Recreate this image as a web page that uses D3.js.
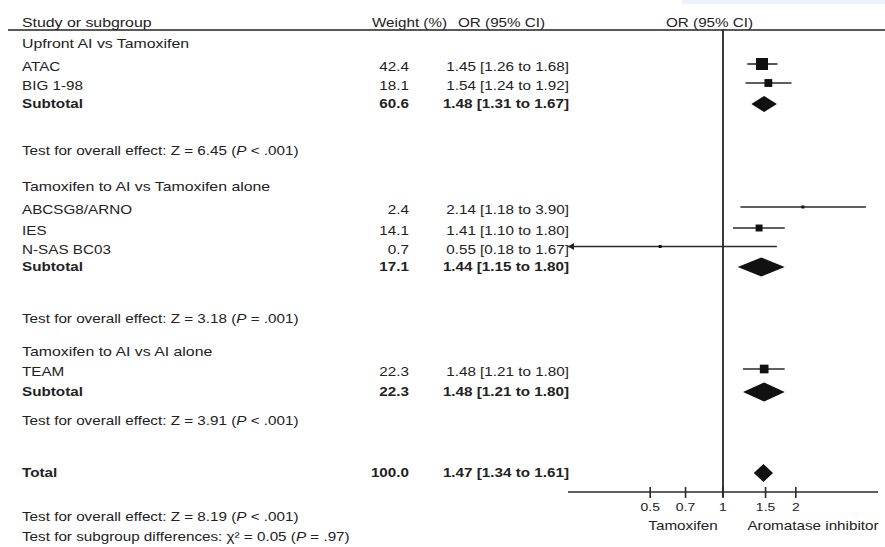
<!DOCTYPE html>
<html><head><meta charset="utf-8">
<script src="https://cdn.jsdelivr.net/npm/d3@7"></script>
<style>
body{margin:0;background:#fff}
svg{display:block}
text{font-family:"Liberation Sans",Arial,Helvetica,sans-serif;fill:#222}
</style>
</head><body>
<svg id="c" width="885" height="547"></svg>
<script>
// ---------------- DATA ----------------
const studies      = ["ATAC", "BIG 1-98", "ABCSG8/ARNO", "IES", "N-SAS BC03", "TEAM"];
const studyGroup   = [0, 0, 1, 1, 1, 2];
const studyWeight  = [42.4, 18.1, 2.4, 14.1, 0.7, 22.3];
const studyOR      = [1.45, 1.54, 2.14, 1.41, 0.55, 1.48];
const studyLo      = [1.26, 1.24, 1.18, 1.10, 0.18, 1.21];
const studyHi      = [1.68, 1.92, 3.90, 1.80, 1.67, 1.80];

const groups       = ["Upfront AI vs Tamoxifen", "Tamoxifen to AI vs Tamoxifen alone", "Tamoxifen to AI vs AI alone"];
const groupWeight  = [60.6, 17.1, 22.3];
const groupOR      = [1.48, 1.44, 1.48];
const groupLo      = [1.31, 1.15, 1.21];
const groupHi      = [1.67, 1.80, 1.80];
const groupZ       = ["6.45", "3.18", "3.91"];
const groupP       = ["< .001", "= .001", "< .001"];

const totalWeight  = 100.0;
const totalOR      = 1.47;
const totalLo      = 1.34;
const totalHi      = 1.61;
const totalZ       = "8.19";
const totalP       = "< .001";
const subgroupChi  = "0.05";
const subgroupP    = "= .97";

const headers      = ["Study or subgroup", "Weight (%)", "OR (95% CI)", "OR (95% CI)"];
const tickValues   = [0.5, 0.7, 1, 1.5, 2];
const tickLabels   = ["0.5", "0.7", "1", "1.5", "2"];
const axisDomain   = [0.2286, 4.375];
const favourLabels = ["Tamoxifen", "Aromatase inhibitor"];

// ---------------- LAYOUT ----------------
const layout = {
  headerY: 23,
  groupHeaderY: [44, 187, 352],
  studyY: [67, 86, 210, 231, 249.5, 372],
  subtotalY: [104, 267, 392],
  testY: [151, 319, 421],
  totalY: 473,
  finalY: [517, 537],
  nameX: 22, weightX: 409, orX: 569,
  plotL: 568, plotR: 878, axisY: 492
};
const FS = 12, SX = 1.27;

const svg = d3.select("#c");
const fmt1 = d3.format(".1f"), fmt2 = d3.format(".2f");

// faint band at top right
svg.append("rect").attr("x", 682).attr("y", 0).attr("width", 203).attr("height", 4).attr("fill", "#eef1fb");

function txt(x, y, parts, o = {}) {
  const t = svg.append("text")
    .attr("transform", `translate(${x},${y + 4.3}) scale(${o.sx || SX},1)`)
    .attr("text-anchor", o.anchor || "start")
    .attr("font-size", o.size || FS)
    .attr("font-weight", o.bold ? "bold" : "normal");
  if (o.fill) t.style("fill", o.fill);
  (Array.isArray(parts) ? parts : [[parts]]).forEach(p => {
    const s = t.append("tspan").text(p[0]);
    if (p[1]) s.attr("font-style", "italic");
  });
  return t;
}
const ciText = (or, lo, hi) => `${fmt2(or)} [${fmt2(lo)} to ${fmt2(hi)}]`;
const testParts = (z, p) => [["Test for overall effect: Z = " + z + " ("], ["P", true], [" " + p + ")"]];

// header
txt(layout.nameX, layout.headerY, headers[0], {size: 12.5});
txt(372, layout.headerY, headers[1]);
txt(458, layout.headerY, headers[2]);
txt(666, layout.headerY, headers[3]);
svg.append("line").attr("x1", 8).attr("x2", 885).attr("y1", 30).attr("y2", 30)
  .attr("stroke", "#222").attr("stroke-width", 1.6);

// scales
const x = d3.scaleLog().domain(axisDomain).range([layout.plotL, layout.plotR]);
const size = d3.scaleSqrt().domain([0, d3.max(studyWeight)]).range([0, 12]);

// null line
svg.append("line").attr("x1", x(1)).attr("x2", x(1)).attr("y1", 29).attr("y2", layout.axisY + 5)
  .attr("stroke", "#3a3a3a").attr("stroke-width", 2);

// groups
groups.forEach((g, gi) => {
  txt(layout.nameX, layout.groupHeaderY[gi], g, {size: 12.5});
  txt(layout.nameX, layout.subtotalY[gi], "Subtotal", {bold: true});
  txt(layout.weightX, layout.subtotalY[gi], fmt1(groupWeight[gi]), {bold: true, anchor: "end"});
  txt(layout.orX, layout.subtotalY[gi], ciText(groupOR[gi], groupLo[gi], groupHi[gi]), {bold: true, anchor: "end"});
  txt(layout.nameX, layout.testY[gi], testParts(groupZ[gi], groupP[gi]));
});

// studies
const plotG = svg.append("g");
studies.forEach((s, i) => {
  const yT = layout.studyY[i];
  txt(layout.nameX, yT, s);
  txt(layout.weightX, yT, fmt1(studyWeight[i]), {anchor: "end"});
  txt(layout.orX, yT, ciText(studyOR[i], studyLo[i], studyHi[i]), {anchor: "end"});
  const ym = yT - 3;
  const lo = Math.max(studyLo[i], axisDomain[0]);
  const hi = Math.min(studyHi[i], axisDomain[1]);
  plotG.append("line").attr("x1", x(lo)).attr("x2", x(hi)).attr("y1", ym).attr("y2", ym)
    .attr("stroke", "#2a2a2a").attr("stroke-width", 1.6);
  if (studyLo[i] < axisDomain[0]) {
    const ax = x(axisDomain[0]);
    plotG.append("path").attr("d", `M${ax},${ym} L${ax + 6},${ym - 3.5} L${ax + 6},${ym + 3.5} Z`).attr("fill", "#222");
  }
  if (studyHi[i] > axisDomain[1]) {
    const ax = x(axisDomain[1]);
    plotG.append("path").attr("d", `M${ax},${ym} L${ax - 6},${ym - 3.5} L${ax - 6},${ym + 3.5} Z`).attr("fill", "#222");
  }
  const w = Math.max(3, size(studyWeight[i]));
  plotG.append("rect").attr("x", x(studyOR[i]) - w / 2).attr("y", ym - w / 2)
    .attr("width", w).attr("height", w).attr("fill", "#111");
});

// diamonds
function diamond(or, lo, hi, y, h) {
  plotG.append("path")
    .attr("d", `M${x(lo)},${y} L${x(or)},${y - h / 2} L${x(hi)},${y} L${x(or)},${y + h / 2} Z`)
    .attr("fill", "#111");
}
groups.forEach((g, gi) => diamond(groupOR[gi], groupLo[gi], groupHi[gi], layout.subtotalY[gi], gi === 0 ? 16 : 19));
diamond(totalOR, totalLo, totalHi, layout.totalY, 18);

// total
txt(layout.nameX, layout.totalY, "Total", {bold: true});
txt(layout.weightX, layout.totalY, fmt1(totalWeight), {bold: true, anchor: "end"});
txt(layout.orX, layout.totalY, ciText(totalOR, totalLo, totalHi), {bold: true, anchor: "end"});
txt(layout.nameX, layout.finalY[0], testParts(totalZ, totalP));
txt(layout.nameX, layout.finalY[1], [["Test for subgroup differences: χ² = " + subgroupChi + " ("], ["P", true], [" " + subgroupP + ")"]]);

// axis
svg.append("line").attr("x1", layout.plotL).attr("x2", layout.plotR).attr("y1", layout.axisY).attr("y2", layout.axisY)
  .attr("stroke", "#2a2a2a").attr("stroke-width", 1.6);
tickValues.forEach((v, i) => {
  svg.append("line").attr("x1", x(v)).attr("x2", x(v)).attr("y1", layout.axisY - 5).attr("y2", layout.axisY + 6)
    .attr("stroke", "#2a2a2a").attr("stroke-width", 1.6);
  txt(x(v), 507, tickLabels[i], {anchor: "middle", size: 11});
});
txt(683, 526, favourLabels[0], {anchor: "middle"});
txt(813, 526, favourLabels[1], {anchor: "middle"});
</script>
</body></html>
